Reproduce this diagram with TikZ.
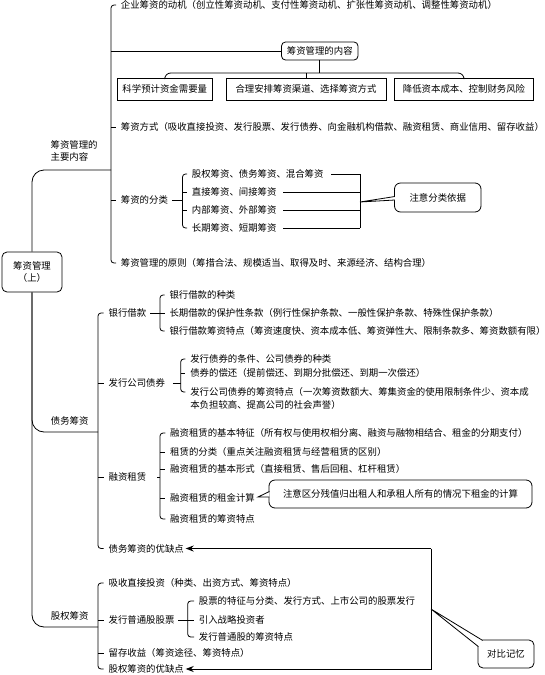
\documentclass[tikz,border=0pt]{standalone}
\usepackage{fontspec}
\newfontfamily\hei{Noto Sans CJK SC}
\usetikzlibrary{arrows.meta}
\tikzset{
  wz/.style={anchor=west,inner sep=0.5pt},
  kuang/.style={draw,rounded corners=5pt,align=center,inner sep=1pt},
  fk/.style={draw,minimum height=22pt,inner sep=1pt},
  kuo/.style={rounded corners=3pt},
  jt/.style={-{Stealth[length=8pt,width=6pt]}},
}
\begin{document}
\begin{tikzpicture}[x=1pt,y=-1pt,line width=0.8pt,font=\hei\fontsize{9.4}{11.5}\selectfont]
\useasboundingbox (0,0) rectangle (545,675);

% 总节点
\node[kuang,minimum width=60pt,minimum height=40pt] (zg) at (32,272) {筹资管理\\（上）};

% 筹资管理的主要内容
\node[wz,align=left] (zyl) at (49.7,151) {筹资管理的\\主要内容};
\coordinate (zb) at (111,0);
\coordinate (zy) at (111,170);
\node[wz] (m1) at (120,5) {企业筹资的动机（创立性筹资动机、支付性筹资动机、扩张性筹资动机、调整性筹资动机）};
\node[kuang,minimum width=76.5pt,minimum height=18pt,rounded corners=4pt] (nr) at (319.75,51) {筹资管理的内容};
\node[fk,minimum width=94.5pt] (b1) at (164.75,89) {科学预计资金需要量};
\node[fk,minimum width=160pt] (b2) at (306,89) {合理安排筹资渠道、选择筹资方式};
\node[fk,minimum width=139pt] (b3) at (464,89) {降低资本成本、控制财务风险};
\node[wz] (m3) at (120,127) {筹资方式（吸收直接投资、发行股票、发行债券、向金融机构借款、融资租赁、商业信用、留存收益）};
\node[wz] (m4) at (120,200) {筹资的分类};
\node[wz] (c1) at (191,174) {股权筹资、债务筹资、混合筹资};
\node[wz] (c2) at (191,192) {直接筹资、间接筹资};
\node[wz] (c3) at (191,210) {内部筹资、外部筹资};
\node[wz] (c4) at (191,228) {长期筹资、短期筹资};
\node[kuang,minimum width=86.5pt,minimum height=29pt,rounded corners=6pt] (fl) at (437.75,197.5) {注意分类依据};
\coordinate (cb) at (182.5,0);
\coordinate (cr) at (360,0);
\coordinate (flj) at (360,202);
\node[wz] (m5) at (120,263) {筹资管理的原则（筹措合法、规模适当、取得及时、来源经济、结构合理）};

\draw[rounded corners=12pt] (zg.north) |- (zy);
\draw[kuo] ([xshift=-4pt]m1.west) -- (m1.west -| zb) -- (m5.west -| zb) -- ([xshift=-4pt]m5.west);
\draw (zb |- m3.west) -- ([xshift=-4pt]m3.west);
\draw (zb |- m4.west) -- ([xshift=-4pt]m4.west);
\draw (zb |- nr.west) -- (nr.west);
\coordinate (fz) at (319.75,73);
\draw (nr.south) -- (fz);
\draw[rounded corners=6pt] (b1.north) |- (fz) -| (b3.north);
\draw (b2.north) -- (b2.north |- fz);
\draw[kuo] ([xshift=-4pt]c1.west) -- (c1.west -| cb) -- (c4.west -| cb) -- ([xshift=-4pt]c4.west);
\draw (c2.west -| cb) -- ([xshift=-4pt]c2.west);
\draw (c3.west -| cb) -- ([xshift=-4pt]c3.west);
\draw ([xshift=3pt]m4.east) -- (m4.east -| cb);
\draw ([xshift=7pt]c1.east) -- (c1.east -| cr);
\draw ([xshift=6pt]c2.east) -- (c2.east -| cr);
\draw ([xshift=6pt]c3.east) -- (c3.east -| cr);
\draw ([xshift=6pt]c4.east) -- (c4.east -| cr);
\draw (c1.east -| cr) -- (c4.east -| cr);
\filldraw[fill=white] ([xshift=0.8pt,yshift=1pt]fl.west) -- (flj) -- ([xshift=0.8pt,yshift=-2.5pt]fl.west);

% 债务筹资
\node[wz] (zwl) at (50,421) {债务筹资};
\coordinate (zwb) at (98,0);
\coordinate (zw) at (98,432);
\node[wz] (d1) at (107.7,313) {银行借款};
\node[wz] (e1) at (168.6,295) {银行借款的种类};
\node[wz] (e2) at (168.6,313) {长期借款的保护性条款（例行性保护条款、一般性保护条款、特殊性保护条款）};
\node[wz] (e3) at (168.6,331) {银行借款筹资特点（筹资速度快、资本成本低、筹资弹性大、限制条款多、筹资数额有限）};
\coordinate (yhb) at (160,0);
\node[wz] (d2) at (107.7,383) {发行公司债券};
\node[wz] (f1) at (189.4,359) {发行债券的条件、公司债券的种类};
\node[wz] (f2) at (189.4,373) {债券的偿还（提前偿还、到期分批偿还、到期一次偿还）};
\node[wz,align=left,font=\hei\fontsize{9.4}{13}\selectfont] (f3) at (189.4,398.5) {发行公司债券的筹资特点（一次筹资数额大、筹集资金的使用限制条件少、资本成\\本负担较高、提高公司的社会声誉）};
\coordinate (f3a) at ([yshift=6.5pt]f3.west);
\coordinate (zqb) at (180.7,0);
\node[wz] (d3) at (107.7,477) {融资租赁};
\node[wz] (g1) at (169.3,433) {融资租赁的基本特征（所有权与使用权相分离、融资与融物相结合、租金的分期支付）};
\node[wz] (g2) at (169.3,452) {租赁的分类（重点关注融资租赁与经营租赁的区别）};
\node[wz] (g3) at (169.3,469) {融资租赁的基本形式（直接租赁、售后回租、杠杆租赁）};
\node[wz] (g4) at (169.3,498) {融资租赁的租金计算};
\node[wz] (g5) at (169.3,519) {融资租赁的筹资特点};
\coordinate (zlb) at (160,0);
\node[kuang,minimum width=263pt,minimum height=28pt,rounded corners=6pt] (zj) at (400.5,494) {注意区分残值归出租人和承租人所有的情况下租金的计算};
\coordinate (zjj) at (258,497);
\node[wz] (d4) at (107.7,548.5) {债务筹资的优缺点};

\draw[rounded corners=12pt] (zg.south) |- (zw);
\draw[kuo] ([xshift=-4pt]d1.west) -- (d1.west -| zwb) -- (d4.west -| zwb) -- ([xshift=-4pt]d4.west);
\draw (zwb |- d2.west) -- ([xshift=-4pt]d2.west);
\draw (zwb |- d3.west) -- ([xshift=-4pt]d3.west);
\draw[kuo] ([xshift=-4pt]e1.west) -- (e1.west -| yhb) -- (e3.west -| yhb) -- ([xshift=-4pt]e3.west);
\draw ([xshift=3pt]d1.east) -- ([xshift=-4pt]e2.west);
\draw[kuo] ([xshift=-4pt]f1.west) -- (f1.west -| zqb) -- (f3a -| zqb) -- ([xshift=-4pt]f3a);
\draw (f2.west -| zqb) -- ([xshift=-4pt]f2.west);
\draw ([xshift=7pt]d2.east) -- (d2.east -| zqb);
\draw[kuo] ([xshift=-4pt]g1.west) -- (g1.west -| zlb) -- (g5.west -| zlb) -- ([xshift=-4pt]g5.west);
\draw (g2.west -| zlb) -- ([xshift=-4pt]g2.west);
\draw (g3.west -| zlb) -- ([xshift=-4pt]g3.west);
\draw (g4.west -| zlb) -- ([xshift=-4pt]g4.west);
\draw ([xshift=10pt]d3.east) -- (d3.east -| zlb);
\filldraw[fill=white] ([xshift=0.8pt,yshift=2.5pt]zj.west) -- (zjj) -- ([xshift=0.8pt,yshift=-3pt]zj.west);

% 股权筹资
\node[wz] (gql) at (50,616) {股权筹资};
\coordinate (gq) at (98,627);
\node[wz] (h1) at (107.7,583) {吸收直接投资（种类、出资方式、筹资特点）};
\node[wz] (h2) at (107.7,620) {发行普通股股票};
\node[wz] (i1) at (198,601) {股票的特征与分类、发行方式、上市公司的股票发行};
\node[wz] (i2) at (198,620) {引入战略投资者};
\node[wz] (i3) at (198,637) {发行普通股的筹资特点};
\coordinate (gpb) at (187.7,0);
\node[wz] (h3) at (107.7,653) {留存收益（筹资途径、筹资特点）};
\node[wz] (h4) at (107.7,669) {股权筹资的优缺点};
\node[kuang,minimum width=56pt,minimum height=28pt] (dbx) at (506,654) {对比记忆};
\coordinate (kr) at (431,548.5);
\coordinate (dbj) at (431,609);

\draw[rounded corners=12pt] (zg.south) |- (gq);
\draw[kuo] ([xshift=-4pt]h1.west) -- (h1.west -| zwb) -- (h4.west -| zwb) -- ([xshift=-4pt]h4.west);
\draw (zwb |- h2.west) -- ([xshift=-4pt]h2.west);
\draw (zwb |- h3.west) -- ([xshift=-4pt]h3.west);
\draw[kuo] ([xshift=-4pt]i1.west) -- (i1.west -| gpb) -- (i3.west -| gpb) -- ([xshift=-4pt]i3.west);
\draw ([xshift=3pt]h2.east) -- ([xshift=-4pt]i2.west);

% 对比记忆
\draw[jt] (kr) -- ([xshift=1pt]d4.east);
\draw[jt] (kr) |- ([xshift=1pt]h4.east);
\filldraw[fill=white] ([xshift=5pt,yshift=-0.8pt]dbx.north west) -- (dbj) -- ([xshift=0.8pt,yshift=-7pt]dbx.north west);
\end{tikzpicture}
\end{document}
